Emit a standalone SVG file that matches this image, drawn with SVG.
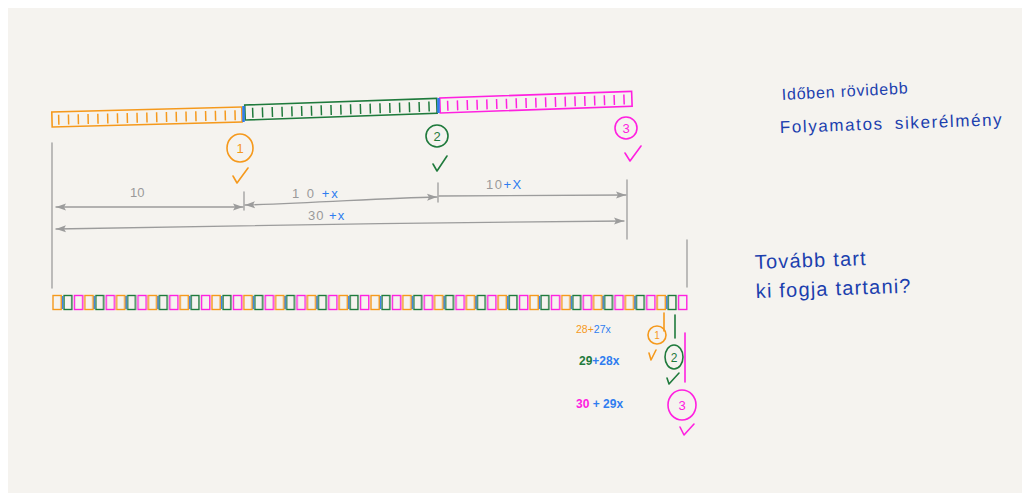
<svg xmlns="http://www.w3.org/2000/svg" width="1030" height="499" viewBox="0 0 1030 499">
<defs>
<style>
.dim{stroke:#9c9c9c;stroke-width:1.3;fill:none;stroke-linecap:round}
.lbl{font-family:"Liberation Sans",Arial,sans-serif;font-size:13px;fill:#9a9a9a}
.bx{fill:#2f7df0}
.hand{font-family:"Liberation Sans",Arial,sans-serif;fill:#1c3fae}
.num{font-family:"Liberation Sans",Arial,sans-serif;font-size:13px;text-anchor:middle}
.o{stroke:#f5991c}.g{stroke:#1f7a3c}.m{stroke:#ff20e0}
.of{fill:#f5991c}.gf{fill:#1f7a3c}.mf{fill:#ff20e0}
.sk{fill:none;stroke-width:1.6;stroke-linecap:round;stroke-linejoin:round}
.tick{fill:none;stroke-width:10;stroke-dasharray:1.5 8.3}
</style>
<marker id="ah" viewBox="0 0 10 8" refX="10" refY="4" markerWidth="10" markerHeight="8" markerUnits="userSpaceOnUse" orient="auto-start-reverse">
<path d="M0,0.5 L10,4 L0,7.5 L2,4 Z" fill="#9c9c9c"/>
</marker>
<pattern id="strip" patternUnits="userSpaceOnUse" x="52" y="294" width="31.8" height="18">
<rect x="1" y="1.5" width="8.2" height="14" fill="none" stroke="#f5991c" stroke-width="1.4"/>
<rect x="12" y="1.5" width="7.8" height="14" fill="none" stroke="#1f7a3c" stroke-width="1.4"/>
<rect x="22.4" y="1.5" width="8.2" height="14" fill="none" stroke="#ff20e0" stroke-width="1.4"/>
<line x1="10.6" y1="2" x2="10.6" y2="15" stroke="#2f7df0" stroke-width="1.2"/>
</pattern>
</defs>
<rect width="1030" height="499" fill="#ffffff"/>
<rect x="8" y="8" width="1014" height="485" fill="#f5f3ef"/>

<g id="bars">
<g id="bar-orange" transform="rotate(-1.5 52 120)">
<rect x="52" y="112" width="190" height="15" fill="none" class="o" stroke-width="1.6"/>
<line x1="58" y1="120" x2="240" y2="120" class="tick o"/>
</g>
<g id="bar-green" transform="rotate(-2 245 113)">
<rect x="245" y="105" width="192" height="15" fill="none" class="g" stroke-width="1.6"/>
<line x1="252" y1="113" x2="435" y2="113" class="tick g"/>
</g>
<g id="bar-magenta" transform="rotate(-2 440 106)">
<rect x="440" y="98" width="192" height="15" fill="none" class="m" stroke-width="1.6"/>
<line x1="447" y1="106" x2="630" y2="106" class="tick m"/>
</g>
<line x1="243.5" y1="106" x2="243.5" y2="122" stroke="#2f7df0" stroke-width="2.5"/>
<line x1="438.5" y1="98" x2="438.5" y2="113" stroke="#2f7df0" stroke-width="2.5"/>
</g>

<g id="markers">
<g id="m1">
<ellipse cx="240" cy="148" rx="13" ry="14" class="sk o"/>
<text x="240" y="153" class="num of">1</text>
<path d="M233,176 L237,183 L248,168" class="sk o"/>
</g>
<g id="m2">
<ellipse cx="437" cy="136" rx="11" ry="11" class="sk g"/>
<text x="437" y="141" class="num gf">2</text>
<path d="M433,164 L437,171 L447,156" class="sk g"/>
</g>
<g id="m3">
<ellipse cx="626" cy="128" rx="11" ry="11" class="sk m"/>
<text x="626" y="133" class="num mf">3</text>
<path d="M625,153 L630,161 L641,146" class="sk m"/>
</g>
</g>

<g id="connectors">
<line x1="52" y1="143" x2="52" y2="288" class="dim"/>
<line x1="244" y1="192" x2="244" y2="210" class="dim"/>
<line x1="438" y1="183" x2="438" y2="202" class="dim"/>
<line x1="627" y1="180" x2="627" y2="239" class="dim"/>
<line x1="687" y1="240" x2="687" y2="287" class="dim"/>
<path d="M243,207 L56,207" class="dim" marker-end="url(#ah)" marker-start="url(#ah)"/>
<path d="M245,205 C320,203 380,198 437,197" class="dim" marker-start="url(#ah)" marker-end="url(#ah)"/>
<path d="M439,196 L626,195" class="dim" marker-end="url(#ah)"/>
<path d="M56,229 C200,226 450,222 624,221" class="dim" marker-start="url(#ah)" marker-end="url(#ah)"/>
</g>

<g id="labels">
<text x="130" y="197" class="lbl">10</text>
<text x="292" y="198" class="lbl" letter-spacing="2">1 0 <tspan class="bx">+x</tspan></text>
<text x="486" y="189" class="lbl" letter-spacing="1.5">10<tspan class="bx">+X</tspan></text>
<text x="308" y="220" class="lbl" letter-spacing="1">30<tspan class="bx"> +x</tspan></text>
</g>

<g id="strip-bar">
<rect x="52" y="294" width="636" height="18" fill="url(#strip)"/>
</g>

<g id="bottom">
<text x="576" y="333" font-family="Liberation Sans,Arial,sans-serif" font-size="10.5" fill="#f5991c">28+<tspan fill="#2f7df0">27x</tspan></text>
<text x="579" y="365" font-family="Liberation Sans,Arial,sans-serif" font-size="12" font-weight="bold" fill="#1f7a3c">29<tspan fill="#2f7df0">+28x</tspan></text>
<text x="576" y="408" font-family="Liberation Sans,Arial,sans-serif" font-size="12" font-weight="bold" fill="#ff20e0">30 <tspan fill="#2f7df0">+ 29x</tspan></text>
<g id="b1">
<line x1="664" y1="313" x2="664" y2="331" class="sk o"/>
<ellipse cx="657" cy="335" rx="9" ry="9" class="sk o"/>
<text x="657" y="339" font-family="Liberation Sans,Arial,sans-serif" font-size="10" text-anchor="middle" class="of">1</text>
<path d="M649,353 L651,360 L656,350" class="sk o"/>
</g>
<g id="b2">
<line x1="675" y1="315" x2="675" y2="338" class="sk g"/>
<ellipse cx="674" cy="357" rx="9" ry="12" class="sk g"/>
<text x="674" y="362" font-family="Liberation Sans,Arial,sans-serif" font-size="12" text-anchor="middle" class="gf">2</text>
<path d="M667,378 L669,384 L679,373" class="sk g"/>
</g>
<g id="b3">
<line x1="685" y1="333" x2="685" y2="382" class="sk m"/>
<ellipse cx="682" cy="405" rx="14" ry="15" class="sk m"/>
<text x="682" y="410" font-family="Liberation Sans,Arial,sans-serif" font-size="13" text-anchor="middle" class="mf">3</text>
<path d="M680,427 L684,435 L694,424" class="sk m"/>
</g>
</g>

<g id="notes">
<text x="782" y="100" class="hand" font-size="16" letter-spacing="0.8" transform="rotate(-3 782 100)">Időben rövidebb</text>
<text x="780" y="133" class="hand" font-size="17" letter-spacing="1.6" word-spacing="5" transform="rotate(-2 780 133)">Folyamatos sikerélmény</text>
<text x="755" y="269" class="hand" font-size="20" letter-spacing="1.2" transform="rotate(-2 755 269)">Tovább tart</text>
<text x="756" y="298" class="hand" font-size="20" letter-spacing="1.2" transform="rotate(-2 756 298)">ki fogja tartani?</text>
</g>
</svg>
